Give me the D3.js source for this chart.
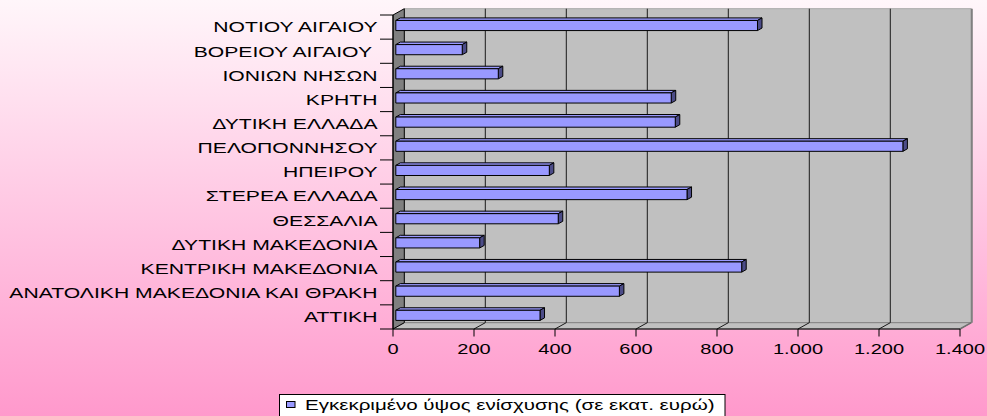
<!DOCTYPE html>
<html>
<head>
<meta charset="utf-8">
<script src="https://cdn.jsdelivr.net/npm/d3@7"></script>
<style>
  html, body { margin: 0; padding: 0; background: #fff; }
  svg { display: block; }
  text { font-family: "Liberation Sans", Arial, sans-serif; white-space: pre; }
</style>
</head>
<body>
<svg id="chart" width="987" height="416"></svg>
<script>
// ---- data (bottom category first, as in the source sheet) ----
const categories = [
  "ΑΤΤΙΚΗ",
  "ΑΝΑΤΟΛΙΚΗ ΜΑΚΕΔΟΝΙΑ ΚΑΙ ΘΡΑΚΗ",
  "ΚΕΝΤΡΙΚΗ ΜΑΚΕΔΟΝΙΑ",
  "ΔΥΤΙΚΗ ΜΑΚΕΔΟΝΙΑ",
  "ΘΕΣΣΑΛΙΑ",
  "ΣΤΕΡΕΑ ΕΛΛΑΔΑ",
  "ΗΠΕΙΡΟΥ",
  "ΠΕΛΟΠΟΝΝΗΣΟΥ",
  "ΔΥΤΙΚΗ ΕΛΛΑΔΑ",
  "ΚΡΗΤΗ",
  "ΙΟΝΙΩΝ ΝΗΣΩΝ",
  "ΒΟΡΕΙΟΥ ΑΙΓΑΙΟΥ ",
  "ΝΟΤΙΟΥ ΑΙΓΑΙΟΥ"
];
const values = [356, 552, 854, 207, 401, 719, 379, 1252, 690, 680, 253, 164, 893];
const xTicks = [0, 200, 400, 600, 800, 1000, 1200, 1400];
const xTickLabels = ["0", "200", "400", "600", "800", "1.000", "1.200", "1.400"];
const seriesName = "Εγκεκριμένο ύψος ενίσχυσης (σε εκατ. ευρώ)";

// ---- layout ----
const W = 987, H = 416;
const front = { left: 393, right: 960, top: 15, bottom: 329 };
const DX = 11.3, DY = 6.3;         // full depth offset of the 3D box
const z0 = 0.25, z1 = 0.65;        // bar depth range
const labelFont = 15, labelSx = 1.41;
const tickFont = 14.5, tickSx = 1.38;
const legendFont = 15, legendSx = 1.37;

const svg = d3.select("#chart");
const defs = svg.append("defs");
const grad = defs.append("linearGradient").attr("id", "bg")
  .attr("x1", 0).attr("y1", 0).attr("x2", 0).attr("y2", 1);
grad.append("stop").attr("offset", "0%").attr("stop-color", "#fff6fa");
grad.append("stop").attr("offset", "100%").attr("stop-color", "#ff99cc");
svg.append("rect").attr("width", W).attr("height", H).attr("fill", "url(#bg)");

const x = d3.scaleLinear().domain([0, 1400]).range([front.left, front.right]);
const y = d3.scaleBand().domain(categories.slice().reverse()).range([front.top, front.bottom]);

const P = (px, py, z) => [px + z * DX, py - z * DY];
const poly = pts => pts.map(p => p.join(",")).join(" ");

const x0 = x(0), x1 = x(1400);
// back wall
svg.append("polygon")
  .attr("points", poly([P(x0, front.top, 1), P(x1, front.top, 1), P(x1, front.bottom, 1), P(x0, front.bottom, 1)]))
  .attr("fill", "#c0c0c0").attr("stroke", "#a8a8a8").attr("stroke-width", 1);
// floor
svg.append("polygon")
  .attr("points", poly([P(x0, front.bottom, 0), P(x1, front.bottom, 0), P(x1, front.bottom, 1), P(x0, front.bottom, 1)]))
  .attr("fill", "#c0c0c0").attr("stroke", "#808080").attr("stroke-width", 1);
// left wall
svg.append("polygon")
  .attr("points", poly([P(x0, front.top, 0), P(x0, front.top, 1), P(x0, front.bottom, 1), P(x0, front.bottom, 0)]))
  .attr("fill", "#808080").attr("stroke", "#000").attr("stroke-width", 1);
// right edge of back wall
svg.append("line")
  .attr("x1", P(x1, front.top, 1)[0] + 0.5).attr("x2", P(x1, front.bottom, 1)[0] + 0.5)
  .attr("y1", P(x1, front.top, 1)[1]).attr("y2", P(x1, front.bottom, 1)[1])
  .attr("stroke", "#808080").attr("stroke-width", 2);
svg.append("line")
  .attr("x1", P(x1, front.bottom, 1)[0]).attr("y1", P(x1, front.bottom, 1)[1])
  .attr("x2", P(x1, front.bottom, 0)[0]).attr("y2", P(x1, front.bottom, 0)[1])
  .attr("stroke", "#707070").attr("stroke-width", 1.5);

// gridlines on back wall + floor
const grid = svg.append("g");
xTicks.filter(t => t > 0 && t < 1400).forEach(t => {
  const a = P(x(t), front.top, 1), b = P(x(t), front.bottom, 1), c = P(x(t), front.bottom, 0);
  grid.append("line").attr("x1", a[0]).attr("y1", a[1]).attr("x2", b[0]).attr("y2", b[1])
    .attr("stroke", "#1a1a1a").attr("stroke-width", 1);
  grid.append("line").attr("x1", b[0]).attr("y1", b[1]).attr("x2", c[0]).attr("y2", c[1])
    .attr("stroke", "#1a1a1a").attr("stroke-width", 1);
});

// bars
const barsG = svg.append("g");
const thick = y.bandwidth() * 0.42;
categories.forEach((cat, i) => {
  const v = values[i];
  const yc = y(cat) + y.bandwidth() / 2;
  const yt = yc - thick / 2, yb = yc + thick / 2;
  const xa = x(0), xb = x(v);
  const g = barsG.append("g").attr("stroke", "#000").attr("stroke-width", 1).attr("stroke-linejoin", "round");
  g.append("polygon").attr("points", poly([P(xa, yt, z0), P(xb, yt, z0), P(xb, yt, z1), P(xa, yt, z1)]))
    .attr("fill", "#9a9aff");
  g.append("polygon").attr("points", poly([P(xb, yt, z0), P(xb, yt, z1), P(xb, yb, z1), P(xb, yb, z0)]))
    .attr("fill", "#4c4c88");
  g.append("polygon").attr("points", poly([P(xa, yt, z0), P(xb, yt, z0), P(xb, yb, z0), P(xa, yb, z0)]))
    .attr("fill", "#9999ff");
});

// category axis
const axY = svg.append("g");
axY.append("line").attr("x1", front.left).attr("x2", front.left)
  .attr("y1", front.top).attr("y2", front.bottom).attr("stroke", "#000");
const bounds = y.domain().map(d => y(d)).concat([y.range()[1]]);
bounds.forEach(b => {
  axY.append("line").attr("x1", front.left - 13).attr("x2", front.left)
    .attr("y1", b).attr("y2", b).attr("stroke", "#000");
});
y.domain().forEach(cat => {
  const yc = y(cat) + y.bandwidth() / 2;
  axY.append("g").attr("transform", `translate(377.5,${yc + 5.3}) scale(${labelSx},1)`)
    .append("text").attr("text-anchor", "end").attr("font-size", labelFont)
    .attr("fill", "#000").text(cat);
});

// value axis
const axX = svg.append("g");
axX.append("line").attr("x1", front.left).attr("x2", front.right)
  .attr("y1", front.bottom).attr("y2", front.bottom).attr("stroke", "#000");
xTicks.forEach((t, i) => {
  axX.append("line").attr("x1", x(t)).attr("x2", x(t))
    .attr("y1", front.bottom).attr("y2", front.bottom + 7.5).attr("stroke", "#000");
  axX.append("g").attr("transform", `translate(${x(t)},354.3) scale(${tickSx},1)`)
    .append("text").attr("text-anchor", "middle").attr("font-size", tickFont)
    .attr("fill", "#000").text(xTickLabels[i]);
});

// legend
const lg = svg.append("g");
lg.append("rect").attr("x", 279.5).attr("y", 394.5).attr("width", 445.5).attr("height", 40)
  .attr("fill", "#fff").attr("stroke", "#000");
lg.append("rect").attr("x", 286.5).attr("y", 401.5).attr("width", 8.5).attr("height", 6)
  .attr("fill", "#9999ff").attr("stroke", "#000");
lg.append("g").attr("transform", `translate(305,409.8) scale(${legendSx},1)`)
  .append("text").attr("font-size", legendFont).attr("fill", "#000").text(seriesName);
</script>
</body>
</html>
